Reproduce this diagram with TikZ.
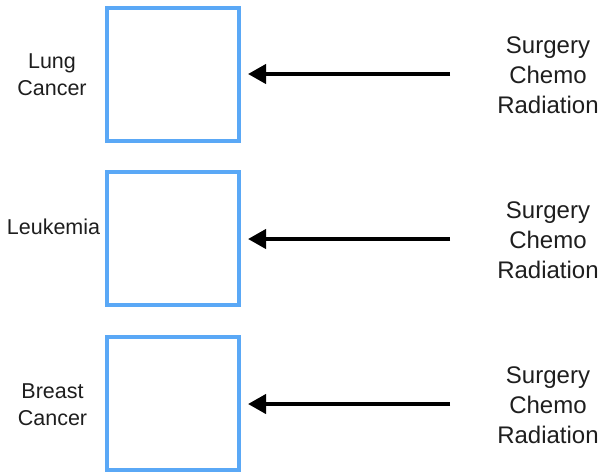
\documentclass[tikz,border=0pt]{standalone}
\usepackage{fontspec}
\setmainfont{Liberation Sans}
\usetikzlibrary{arrows.meta,shadows}
\definecolor{boxblue}{RGB}{90,168,246}
\definecolor{txt}{RGB}{30,30,30}
\begin{document}
\begin{tikzpicture}[x=1pt,y=-1pt,
  cbox/.style={draw=boxblue,line width=4pt,fill=white,minimum width=132pt,minimum height=133pt,inner sep=0pt,
    drop shadow={shadow xshift=1pt,shadow yshift=-1.5pt,opacity=0.35,fill=gray}},
  rtxt/.style={align=center,font=\fontsize{24}{30}\selectfont,text=txt,inner sep=0pt},
  ltxt/.style={align=center,font=\fontsize{21.5}{27}\selectfont,text=txt,inner sep=0pt},
  arr/.style={line width=4pt,-{Triangle[length=18pt,width=19pt]},shorten >=7pt}]
\useasboundingbox (0,0) rectangle (602,472);
\foreach \i/\y/\ay/\ly/\ty/\lab/\lx in {1/74.5/74/75/75.5/{Lung\\Cancer}/52, 2/238.5/239/226.5/240/{Leukemia}/53.5, 3/403.5/404/404.5/405/{Breast\\Cancer}/52.5}{
  \node[cbox] (b\i) at (173,\y) {};
  \node[ltxt] (l\i) at (\lx,\ly) {\lab};
  \node[rtxt] (t\i) at (548,\ty) {Surgery\\Chemo\\Radiation};
  \coordinate (s\i) at (450,\ay);
  \draw[arr] (s\i) -- (b\i.east |- s\i);
}
\end{tikzpicture}
\end{document}
